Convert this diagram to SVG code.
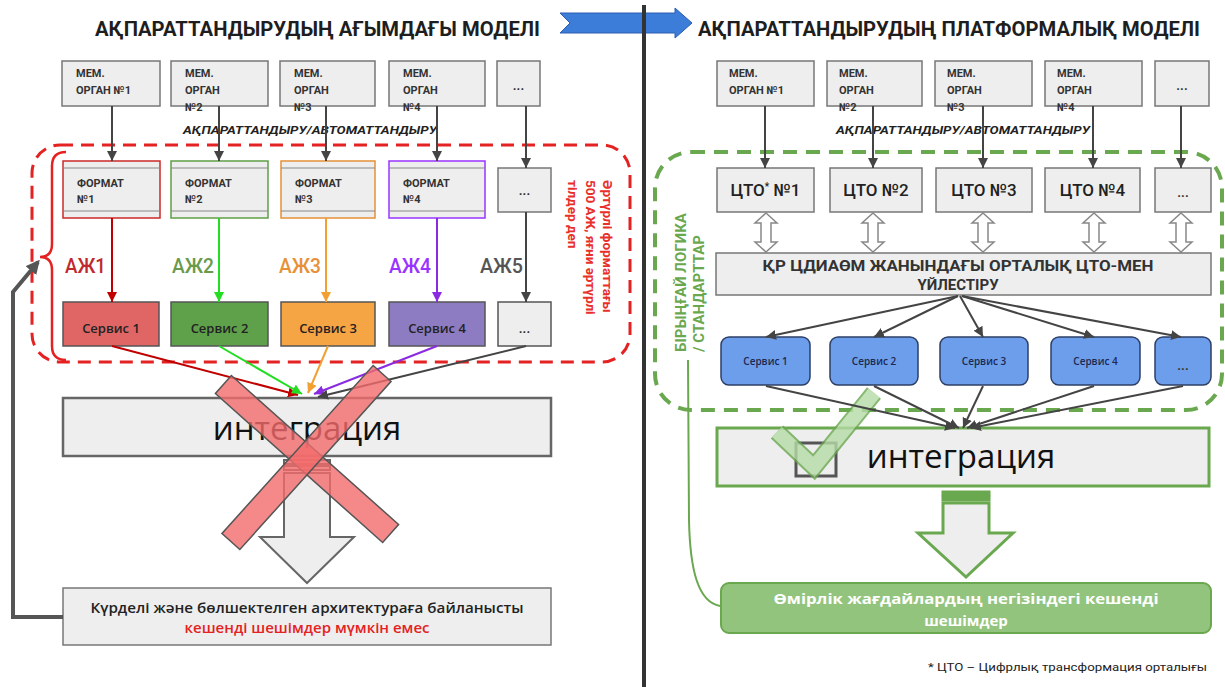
<svg xmlns="http://www.w3.org/2000/svg" width="1225" height="687" viewBox="0 0 1225 687">
<defs>
<style>
.title{font-family:Roboto,"Liberation Sans",sans-serif;font-weight:700;font-size:20px;fill:#1e1e1e}
.box{fill:#eeeeee;stroke:#777;stroke-width:1.5}
.mem{font-family:Roboto,"Liberation Sans",sans-serif;font-weight:700;font-size:11px;fill:#333}
.dots{font-family:Roboto,"Liberation Sans",sans-serif;font-weight:700;font-size:13px;fill:#333;text-anchor:middle}
.auto{font-family:Roboto,"Liberation Sans",sans-serif;font-weight:700;font-style:italic;font-size:10px;fill:#222}
.conn{stroke:#444;stroke-width:2;fill:none}
.aj{font-family:Roboto,"Liberation Sans",sans-serif;font-weight:500;font-size:20px}
.svc{stroke:#555;stroke-width:1.5}
.svct{font-family:"Open Sans","Liberation Sans",sans-serif;font-weight:600;font-size:13px;fill:#222;text-anchor:middle}
.integ{font-family:"Open Sans","Liberation Sans",sans-serif;font-size:33px;fill:#111;text-anchor:middle}
.bot{font-family:"Open Sans","Liberation Sans",sans-serif;font-weight:600;font-size:14px;text-anchor:middle}
.botw{font-family:"Open Sans","Liberation Sans",sans-serif;font-weight:700;font-size:15px;fill:#fff;text-anchor:middle}
.cto{font-family:Roboto,"Liberation Sans",sans-serif;font-weight:500;font-size:17px;fill:#222;text-anchor:middle}
.coord{font-family:Roboto,"Liberation Sans",sans-serif;font-weight:700;font-size:15px;fill:#333;text-anchor:middle}
.bsvc{fill:#6d9eeb;stroke:#2d3f66;stroke-width:1.5}
.bsvct{font-family:"Open Sans","Liberation Sans",sans-serif;font-weight:600;font-size:10px;fill:#1c2850;text-anchor:middle}
.dbl{fill:#fff;stroke:#888;stroke-width:1.5}
</style>
<marker id="mDark" viewBox="0 0 10 10" refX="10" refY="5" markerWidth="10" markerHeight="10" markerUnits="userSpaceOnUse" orient="auto"><path d="M0,0 L10,5 L0,10 z" fill="#444"/></marker>
<marker id="mRed" viewBox="0 0 10 10" refX="10" refY="5" markerWidth="10" markerHeight="10" markerUnits="userSpaceOnUse" orient="auto"><path d="M0,0 L10,5 L0,10 z" fill="#c00000"/></marker>
<marker id="mGreen" viewBox="0 0 10 10" refX="10" refY="5" markerWidth="10" markerHeight="10" markerUnits="userSpaceOnUse" orient="auto"><path d="M0,0 L10,5 L0,10 z" fill="#22dd22"/></marker>
<marker id="mOrange" viewBox="0 0 10 10" refX="10" refY="5" markerWidth="10" markerHeight="10" markerUnits="userSpaceOnUse" orient="auto"><path d="M0,0 L10,5 L0,10 z" fill="#f3a033"/></marker>
<marker id="mPurple" viewBox="0 0 10 10" refX="10" refY="5" markerWidth="10" markerHeight="10" markerUnits="userSpaceOnUse" orient="auto"><path d="M0,0 L10,5 L0,10 z" fill="#8a2be2"/></marker>
<marker id="mGray" viewBox="0 0 10 10" refX="8" refY="5" markerWidth="14" markerHeight="14" markerUnits="userSpaceOnUse" orient="auto"><path d="M0,0 L10,5 L0,10 z" fill="#555"/></marker>
<!-- hollow two-way vertical arrow, centred on x=0 -->
<path id="twoWay" class="dbl" d="M0,213 L11,223 L5,223 L5,242 L11,242 L0,252 L-11,242 L-5,242 L-5,223 L-11,223 Z"/>
</defs>

<rect width="1225" height="687" fill="#ffffff"/>

<!-- headings -->
<text class="title" x="95" y="36" textLength="445" lengthAdjust="spacingAndGlyphs">АҚПАРАТТАНДЫРУДЫҢ АҒЫМДАҒЫ МОДЕЛІ</text>
<text class="title" x="698" y="36" textLength="502" lengthAdjust="spacingAndGlyphs">АҚПАРАТТАНДЫРУДЫҢ ПЛАТФОРМАЛЫҚ МОДЕЛІ</text>
<polygon id="transition-arrow" points="560,13 675,13 675,8 692,23 675,38 675,33 560,33 570,23" fill="#3c7dd9" stroke="#2a5fb0" stroke-width="1"/>
<line id="divider" x1="644" y1="5" x2="644" y2="687" stroke="#333" stroke-width="4"/>

<!-- ===== current model (left) ===== -->
<rect id="red-frame" x="32" y="145" width="598" height="217" rx="28" fill="none" stroke="#e42222" stroke-width="3" stroke-dasharray="13 8"/>
<path id="red-brace" d="M66,152 Q52,152 52,166 L52,244 Q52,257 40,257 Q52,257 52,270 L52,346 Q52,360 66,360" fill="none" stroke="#e42222" stroke-width="2.5"/>
<text id="red-note" transform="translate(603 180) rotate(90)" font-family="Roboto, 'Liberation Sans', sans-serif" font-weight="700" font-size="13.5" fill="#e8302a"><tspan x="0" y="0">Әртүрлі форматтағы</tspan><tspan x="0" dy="17.5">500 АЖ, яғни әртүрлі</tspan><tspan x="0" dy="17.5">тілдер деп</tspan></text>

<g id="L-mem1"><rect class="box" x="62" y="61" width="98" height="45"/><text class="mem" x="76" y="77">МЕМ.</text><text class="mem" x="76" y="94">ОРГАН №1</text></g>
<g id="L-mem2"><rect class="box" x="171" y="61" width="97" height="45"/><text class="mem" x="185" y="77">МЕМ.</text><text class="mem" x="185" y="94">ОРГАН</text><text class="mem" x="185" y="111">№2</text></g>
<g id="L-mem3"><rect class="box" x="280" y="61" width="95" height="45"/><text class="mem" x="294" y="77">МЕМ.</text><text class="mem" x="294" y="94">ОРГАН</text><text class="mem" x="294" y="111">№3</text></g>
<g id="L-mem4"><rect class="box" x="389" y="61" width="96" height="45"/><text class="mem" x="403" y="77">МЕМ.</text><text class="mem" x="403" y="94">ОРГАН</text><text class="mem" x="403" y="111">№4</text></g>
<g id="L-mem5"><rect class="box" x="497" y="61" width="43" height="45"/><text class="dots" x="518.5" y="90">...</text></g>

<text class="auto" x="183" y="134" textLength="254" lengthAdjust="spacingAndGlyphs">АҚПАРАТТАНДЫРУ/АВТОМАТТАНДЫРУ</text>

<g id="L-fmt1"><rect x="63" y="161" width="97" height="57" fill="#eee" stroke="#cc2a2a" stroke-width="1.5"/><path d="M63,168 H160 M63,211 H160" stroke="#888" stroke-width="1"/><text class="mem" x="77" y="187">ФОРМАТ</text><text class="mem" x="77" y="203">№1</text></g>
<g id="L-fmt2"><rect x="171" y="161" width="97" height="57" fill="#eee" stroke="#5f9f45" stroke-width="1.5"/><path d="M171,168 H268 M171,211 H268" stroke="#888" stroke-width="1"/><text class="mem" x="185" y="187">ФОРМАТ</text><text class="mem" x="185" y="203">№2</text></g>
<g id="L-fmt3"><rect x="281" y="161" width="94" height="57" fill="#eee" stroke="#e69138" stroke-width="1.5"/><path d="M281,168 H375 M281,211 H375" stroke="#888" stroke-width="1"/><text class="mem" x="295" y="187">ФОРМАТ</text><text class="mem" x="295" y="203">№3</text></g>
<g id="L-fmt4"><rect x="389" y="161" width="96" height="57" fill="#eee" stroke="#9933ff" stroke-width="1.5"/><path d="M389,168 H485 M389,211 H485" stroke="#888" stroke-width="1"/><text class="mem" x="403" y="187">ФОРМАТ</text><text class="mem" x="403" y="203">№4</text></g>
<g id="L-fmt5"><rect class="box" x="498" y="168" width="53" height="44"/><text class="dots" x="524.5" y="195">...</text></g>

<text class="aj" x="65" y="273" fill="#c0282d" textLength="41" lengthAdjust="spacingAndGlyphs">АЖ1</text>
<text class="aj" x="172" y="273" fill="#6a9a4a" textLength="42" lengthAdjust="spacingAndGlyphs">АЖ2</text>
<text class="aj" x="279" y="273" fill="#e69138" textLength="42" lengthAdjust="spacingAndGlyphs">АЖ3</text>
<text class="aj" x="389" y="273" fill="#9933ff" textLength="42" lengthAdjust="spacingAndGlyphs">АЖ4</text>
<text class="aj" x="480" y="273" fill="#555" textLength="43" lengthAdjust="spacingAndGlyphs">АЖ5</text>

<g id="L-svc1"><rect class="svc" x="63" y="302" width="96" height="44" fill="#e06666"/><text class="svct" x="111" y="333">Сервис 1</text></g>
<g id="L-svc2"><rect class="svc" x="171" y="302" width="97" height="44" fill="#5fa04a"/><text class="svct" x="219.5" y="333">Сервис 2</text></g>
<g id="L-svc3"><rect class="svc" x="281" y="302" width="94" height="44" fill="#f6a545"/><text class="svct" x="328" y="333">Сервис 3</text></g>
<g id="L-svc4"><rect class="svc" x="389" y="302" width="96" height="44" fill="#8e7cc3"/><text class="svct" x="437" y="333">Сервис 4</text></g>
<g id="L-svc5"><rect class="svc" x="498" y="302" width="53" height="44" fill="#eee"/><text class="dots" x="524.5" y="333">...</text></g>

<g id="L-integration"><rect x="63" y="398" width="488" height="58" fill="#eee" stroke="#666" stroke-width="2.5"/><text class="integ" x="307" y="440">интеграция</text></g>

<g id="L-down-arrow" fill="#eee" stroke="#666" stroke-width="2">
<rect x="284" y="460" width="46" height="4"/><rect x="284" y="466" width="46" height="4"/>
<path d="M284,473 L330,473 L330,537 L354,537 L307,583 L260,537 L284,537 Z"/>
</g>

<g id="L-result"><rect x="63" y="588" width="488" height="57" fill="#eee" stroke="#777" stroke-width="1.5"/>
<text class="bot" x="307" y="613" fill="#222" textLength="433" lengthAdjust="spacingAndGlyphs">Күрделі және бөлшектелген архитектураға байланысты</text>
<text class="bot" x="307" y="633" fill="#e42222" textLength="245" lengthAdjust="spacingAndGlyphs">кешенді шешімдер мүмкін емес</text></g>

<g id="L-connectors">
<line class="conn" x1="112" y1="106" x2="112" y2="161" marker-end="url(#mDark)"/>
<line class="conn" x1="219" y1="106" x2="219" y2="161" marker-end="url(#mDark)"/>
<line class="conn" x1="326" y1="106" x2="326" y2="161" marker-end="url(#mDark)"/>
<line class="conn" x1="437" y1="106" x2="437" y2="161" marker-end="url(#mDark)"/>
<line class="conn" x1="526" y1="106" x2="526" y2="168" marker-end="url(#mDark)"/>
<line x1="112" y1="218" x2="112" y2="302" stroke="#c00000" stroke-width="2" marker-end="url(#mRed)"/>
<line x1="219" y1="218" x2="219" y2="302" stroke="#22dd22" stroke-width="2" marker-end="url(#mGreen)"/>
<line x1="326" y1="218" x2="326" y2="302" stroke="#f3a033" stroke-width="2" marker-end="url(#mOrange)"/>
<line x1="437" y1="218" x2="437" y2="302" stroke="#8a2be2" stroke-width="2" marker-end="url(#mPurple)"/>
<line class="conn" x1="526" y1="212" x2="526" y2="302" marker-end="url(#mDark)"/>
<line x1="112" y1="346" x2="298" y2="395" stroke="#c00000" stroke-width="2" marker-end="url(#mRed)"/>
<line x1="219" y1="346" x2="302" y2="394" stroke="#22dd22" stroke-width="2" marker-end="url(#mGreen)"/>
<line x1="328" y1="346" x2="308" y2="393" stroke="#f3a033" stroke-width="2" marker-end="url(#mOrange)"/>
<line x1="437" y1="346" x2="314" y2="394" stroke="#8a2be2" stroke-width="2" marker-end="url(#mPurple)"/>
<line class="conn" x1="526" y1="346" x2="318" y2="397" marker-end="url(#mDark)"/>
<path d="M63,617 L13,617 L13,292 L38,262" fill="none" stroke="#555" stroke-width="4" marker-end="url(#mGray)"/>
</g>

<g id="cross" fill="#f26b6b" fill-opacity="0.8" stroke="#555" stroke-width="1.5">
<rect x="-112" y="-12" width="224" height="24" transform="translate(307 459) rotate(41.7)"/>
<rect x="-113" y="-12" width="226" height="24" transform="translate(306.5 457.5) rotate(132)"/>
</g>

<!-- ===== platform model (right) ===== -->
<rect id="green-frame" x="655" y="152" width="567" height="258" rx="36" fill="none" stroke="#6aa84f" stroke-width="4" stroke-dasharray="14 9"/>
<text id="green-note" transform="translate(686 352) rotate(-90)" font-family="Roboto, 'Liberation Sans', sans-serif" font-weight="700" font-size="15" fill="#6aa84f"><tspan x="0" y="0">БІРЫҢҒАЙ ЛОГИКА</tspan><tspan x="0" dy="18">/ СТАНДАРТТАР</tspan></text>

<g id="R-mem1"><rect class="box" x="717" y="61" width="97" height="45"/><text class="mem" x="729" y="77">МЕМ.</text><text class="mem" x="729" y="94">ОРГАН №1</text></g>
<g id="R-mem2"><rect class="box" x="827" y="61" width="95" height="45"/><text class="mem" x="839" y="77">МЕМ.</text><text class="mem" x="839" y="94">ОРГАН</text><text class="mem" x="839" y="111">№2</text></g>
<g id="R-mem3"><rect class="box" x="935" y="61" width="97" height="45"/><text class="mem" x="947" y="77">МЕМ.</text><text class="mem" x="947" y="94">ОРГАН</text><text class="mem" x="947" y="111">№3</text></g>
<g id="R-mem4"><rect class="box" x="1045" y="61" width="97" height="45"/><text class="mem" x="1057" y="77">МЕМ.</text><text class="mem" x="1057" y="94">ОРГАН</text><text class="mem" x="1057" y="111">№4</text></g>
<g id="R-mem5"><rect class="box" x="1155" y="61" width="54" height="45"/><text class="dots" x="1182" y="90">...</text></g>

<text class="auto" x="836" y="134" textLength="254" lengthAdjust="spacingAndGlyphs">АҚПАРАТТАНДЫРУ/АВТОМАТТАНДЫРУ</text>

<g id="R-cto1"><rect class="box" x="717" y="168" width="97" height="44"/><text class="cto" x="765.5" y="196">ЦТО<tspan font-size="10" dy="-6">*</tspan><tspan dy="6"> №1</tspan></text></g>
<g id="R-cto2"><rect class="box" x="830" y="168" width="92" height="44"/><text class="cto" x="876" y="196">ЦТО №2</text></g>
<g id="R-cto3"><rect class="box" x="936" y="168" width="96" height="44"/><text class="cto" x="984" y="196">ЦТО №3</text></g>
<g id="R-cto4"><rect class="box" x="1045" y="168" width="95" height="44"/><text class="cto" x="1092.5" y="196">ЦТО №4</text></g>
<g id="R-cto5"><rect class="box" x="1155" y="168" width="56" height="44"/><text class="dots" x="1183" y="197">...</text></g>

<g id="R-links">
<use href="#twoWay" x="766"/><use href="#twoWay" x="873"/><use href="#twoWay" x="983"/><use href="#twoWay" x="1094"/><use href="#twoWay" x="1181"/>
</g>

<g id="R-coord"><rect class="box" x="716" y="253" width="495" height="42"/>
<text class="coord" x="958" y="271" textLength="391" lengthAdjust="spacingAndGlyphs">ҚР ЦДИАӨМ ЖАНЫНДАҒЫ ОРТАЛЫҚ ЦТО-МЕН</text>
<text class="coord" x="958" y="290">ҮЙЛЕСТІРУ</text></g>

<g id="R-svc1"><rect class="bsvc" x="721" y="337" width="89" height="48" rx="8"/><text class="bsvct" x="765.5" y="365">Сервис 1</text></g>
<g id="R-svc2"><rect class="bsvc" x="830" y="337" width="88" height="48" rx="8"/><text class="bsvct" x="874" y="365">Сервис 2</text></g>
<g id="R-svc3"><rect class="bsvc" x="940" y="337" width="88" height="48" rx="8"/><text class="bsvct" x="984" y="365">Сервис 3</text></g>
<g id="R-svc4"><rect class="bsvc" x="1051" y="337" width="89" height="48" rx="8"/><text class="bsvct" x="1095.5" y="365">Сервис 4</text></g>
<g id="R-svc5"><rect class="bsvc" x="1155" y="337" width="56" height="48" rx="8"/><text class="dots" x="1183" y="370" fill="#1c2850">...</text></g>

<g id="R-integration"><rect x="717" y="428" width="492" height="58" fill="#eee" stroke="#6aa84f" stroke-width="3"/>
<rect x="796" y="443" width="40" height="33" fill="none" stroke="#555" stroke-width="3"/>
<text class="integ" x="961" y="468">интеграция</text></g>
<g id="check" fill="none" stroke-linejoin="miter" opacity="0.8">
<polyline points="777,432 814,467 874,393" stroke="#6aa84f" stroke-width="18"/>
<polyline points="777,432 814,467 874,393" stroke="#b6dca7" stroke-width="14"/>
</g>

<g id="R-down-arrow" fill="#eee" stroke="#6aa84f" stroke-width="3">
<rect x="943" y="492" width="46" height="3"/><rect x="943" y="497" width="46" height="3"/>
<path d="M943,503 L989,503 L989,533 L1013,533 L966,577 L918,533 L943,533 Z"/>
</g>

<g id="R-result"><rect x="721" y="583" width="490" height="50" rx="8" fill="#93c47d" stroke="#6aa84f" stroke-width="2"/>
<text class="botw" x="966" y="604" textLength="385" lengthAdjust="spacingAndGlyphs">Өмірлік жағдайлардың негізіндегі кешенді</text>
<text class="botw" x="966" y="626">шешімдер</text></g>

<g id="R-connectors">
<line class="conn" x1="765" y1="106" x2="765" y2="168" marker-end="url(#mDark)"/>
<line class="conn" x1="873" y1="106" x2="873" y2="168" marker-end="url(#mDark)"/>
<line class="conn" x1="983" y1="106" x2="983" y2="168" marker-end="url(#mDark)"/>
<line class="conn" x1="1093" y1="106" x2="1093" y2="168" marker-end="url(#mDark)"/>
<line class="conn" x1="1181" y1="106" x2="1181" y2="168" marker-end="url(#mDark)"/>
<line class="conn" x1="958" y1="296" x2="766" y2="337" marker-end="url(#mDark)"/>
<line class="conn" x1="958" y1="296" x2="874" y2="337" marker-end="url(#mDark)"/>
<line class="conn" x1="960" y1="296" x2="983" y2="337" marker-end="url(#mDark)"/>
<line class="conn" x1="962" y1="296" x2="1094" y2="337" marker-end="url(#mDark)"/>
<line class="conn" x1="962" y1="296" x2="1181" y2="337" marker-end="url(#mDark)"/>
<line class="conn" x1="766" y1="386" x2="955" y2="428" marker-end="url(#mDark)"/>
<line class="conn" x1="874" y1="386" x2="959" y2="428" marker-end="url(#mDark)"/>
<line class="conn" x1="983" y1="386" x2="963" y2="428" marker-end="url(#mDark)"/>
<line class="conn" x1="1094" y1="386" x2="967" y2="428" marker-end="url(#mDark)"/>
<line class="conn" x1="1183" y1="386" x2="971" y2="428" marker-end="url(#mDark)"/>
<path d="M720,606 C698,602 690,570 689,520 L688,360" fill="none" stroke="#6aa84f" stroke-width="2"/>
</g>

<text id="footnote" x="928" y="671" font-family="Roboto, 'Liberation Sans', sans-serif" font-size="11" fill="#222" textLength="279" lengthAdjust="spacingAndGlyphs">* ЦТО – Цифрлық трансформация орталығы</text>
</svg>
